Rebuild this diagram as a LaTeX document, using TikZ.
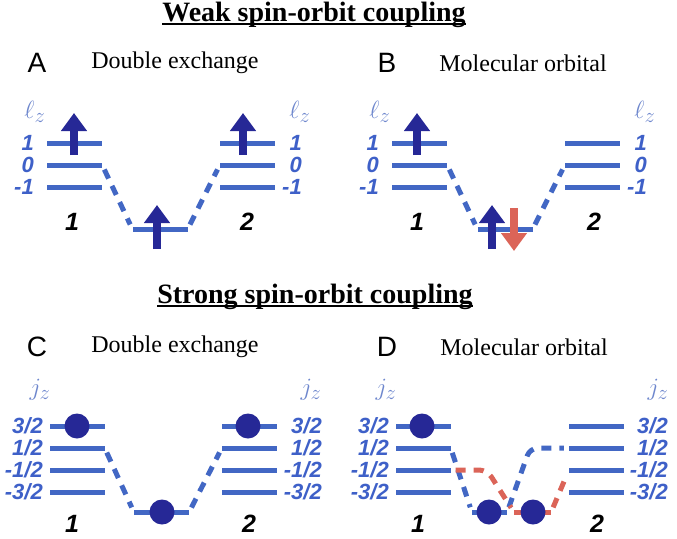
\documentclass[tikz,border=0pt]{standalone}
\usepackage{fontspec}
\setmainfont{Liberation Serif}
\setsansfont{Liberation Sans}
\usetikzlibrary{positioning, arrows.meta}

\definecolor{lvblue}{RGB}{66,103,196}
\definecolor{lblblue}{RGB}{62,96,200}
\definecolor{spinblue}{RGB}{38,40,150}
\definecolor{spinred}{RGB}{219,100,88}
\definecolor{lzblue}{RGB}{110,135,205}

\tikzset{
  level/.style={fill=lvblue, minimum width=55pt, minimum height=5pt, inner sep=0pt},
  lvlabel/.style={text=lblblue, anchor=east, inner sep=0pt,
    font=\sffamily\bfseries\itshape\fontsize{22}{22}\selectfont},
  site/.style={inner sep=0pt, font=\sffamily\bfseries\itshape\fontsize{25}{25}\selectfont},
  hop/.style={draw=lvblue, line width=5pt, dash pattern=on 10pt off 8pt,
    shorten <=5pt, shorten >=5pt},
  hopred/.style={hop, draw=spinred},
  spinup/.style={draw=spinblue, line width=8pt, -{Triangle[length=18pt,width=25pt]}},
  spindown/.style={spinup, draw=spinred},
  electron/.style={circle, fill=spinblue, minimum size=25pt, inner sep=0pt},
  panel/.style={inner sep=0pt, font=\sffamily\fontsize{28}{28}\selectfont},
  caption/.style={inner sep=0pt, font=\fontsize{24}{24}\selectfont},
  title/.style={inner sep=0pt, anchor=base, font=\bfseries\fontsize{28}{28}\selectfont},
  axis/.style={text=lzblue, inner sep=0pt, font=\fontsize{29}{29}\selectfont},
}

\begin{document}
\begin{tikzpicture}[x=1pt, y=-1pt]
\useasboundingbox (0,0) rectangle (677,538);

% titles
\node[title] (T1) at (314,21) {Weak spin-orbit coupling};
\draw[line width=1.4pt] ([yshift=-3pt]T1.base west) -- ([yshift=-3pt]T1.base east);
\node[title] (T2) at (315,303) {Strong spin-orbit coupling};
\draw[line width=1.4pt] ([yshift=-3pt]T2.base west) -- ([yshift=-3pt]T2.base east);

% ---------- A: double exchange, weak SOC
\node[panel] (labA) at (37,63) {A};
\node[caption] (capA) at (175,63) {Double exchange};
\node[axis] (lzA1) at (35,112) {$\ell_z$};
\node[axis] (lzA2) at (300,112) {$\ell_z$};
\foreach \y/\n/\lab in {143/1/1,165/2/0,187/3/-1}{
  \node[level] (A1\n) at (74.5,\y) {};
  \node[lvlabel] (A1t\n) at (34,\y) {\lab};
  \node[level] (A2\n) at (247.5,\y) {};
  \node[lvlabel] (A2t\n) at (302,\y) {\lab};
}
\node[level] (AM) at (160,229) {};
\node[site] (As1) at (72,222) {1};
\node[site] (As2) at (247,222) {2};
\draw[hop] (A12.east) -- (AM.west);
\draw[hop] (AM.east) -- (A22.west);
\draw[spinup] (74,155) -- (74,113);
\draw[spinup] (243,155) -- (243,113);
\draw[spinup] (157,249) -- (157,205);

% ---------- B: molecular orbital, weak SOC
\begin{scope}[shift={(345,0)}]
\node[panel] (labB) at (42,63) {B};
\node[caption] (capB) at (178,63) {Molecular orbital};
\node[axis] (lzB1) at (35,112) {$\ell_z$};
\node[axis] (lzB2) at (300,112) {$\ell_z$};
\foreach \y/\n/\lab in {143/1/1,165/2/0,187/3/-1}{
  \node[level] (B1\n) at (74.5,\y) {};
  \node[lvlabel] (B1t\n) at (34,\y) {\lab};
  \node[level] (B2\n) at (247.5,\y) {};
  \node[lvlabel] (B2t\n) at (302,\y) {\lab};
}
\node[level] (BM) at (160,229) {};
\node[site] (Bs1) at (72,222) {1};
\node[site] (Bs2) at (249,222) {2};
\draw[hop] (B12.east) -- (BM.west);
\draw[hop] (BM.east) -- (B22.west);
\draw[spinup] (72,155) -- (72,113);
\draw[spinup] (147,249) -- (147,205);
\draw[spindown] (169,208) -- (169,251);
\end{scope}

% ---------- C: double exchange, strong SOC
\node[panel] (labC) at (37,347) {C};
\node[caption] (capC) at (175,347) {Double exchange};
\node[axis] (jzC1) at (40,390) {$j_z$};
\node[axis] (jzC2) at (311,390) {$j_z$};
\foreach \y/\n/\lab in {426/1/3\slash 2,448/2/1\slash 2,470/3/-1\slash 2,492/4/-3\slash 2}{
  \node[level] (C1\n) at (77,\y) {};
  \node[lvlabel] (C1t\n) at (43,\y) {\lab};
  \node[level] (C2\n) at (249.5,\y) {};
  \node[lvlabel] (C2t\n) at (322,\y) {\lab};
}
\node[level] (CM) at (161.5,512) {};
\node[site] (Cs1) at (72,524) {1};
\node[site] (Cs2) at (249,524) {2};
\draw[hop] (C12.east) -- (CM.west);
\draw[hop] (CM.east) -- (C22.west);
\node[electron] (Ce1) at (77,426) {};
\node[electron] (Ce2) at (248,426) {};
\node[electron] (CeM) at (162,512) {};

% ---------- D: molecular orbital, strong SOC
\begin{scope}[shift={(346,0)}]
\node[panel] (labD) at (41,347) {D};
\node[caption] (capD) at (178,347) {Molecular orbital};
\node[axis] (jzD1) at (40,390) {$j_z$};
\node[axis] (jzD2) at (312,390) {$j_z$};
\foreach \y/\n/\lab in {426/1/3\slash 2,448/2/1\slash 2,470/3/-1\slash 2,492/4/-3\slash 2}{
  \node[level] (D1\n) at (77,\y) {};
  \node[lvlabel] (D1t\n) at (43,\y) {\lab};
  \node[level] (D2\n) at (250.5,\y) {};
  \node[lvlabel] (D2t\n) at (322,\y) {\lab};
}
\node[level, minimum width=35pt] (DMb) at (143.5,512) {};
\node[level, fill=spinred, minimum width=37pt] (DMr) at (186.5,512) {};
\node[site] (Ds1) at (72,524) {1};
\node[site] (Ds2) at (251,524) {2};
\coordinate (Dkb) at (184,448);
\coordinate (Dkr) at (141,470);
\draw[hop] (D12.east) -- (DMb.west);
\draw[hop, rounded corners=8pt] (DMb.east) -- (Dkb) -- (D22.west);
\draw[hopred, rounded corners=8pt] (D13.east) -- (Dkr) -- (DMr.west);
\draw[hopred] (DMr.east) -- (D23.west);
\node[electron] (De1) at (76,426) {};
\node[electron] (DeMb) at (143,512) {};
\node[electron] (DeMr) at (187,512) {};
\end{scope}
\end{tikzpicture}
\end{document}
